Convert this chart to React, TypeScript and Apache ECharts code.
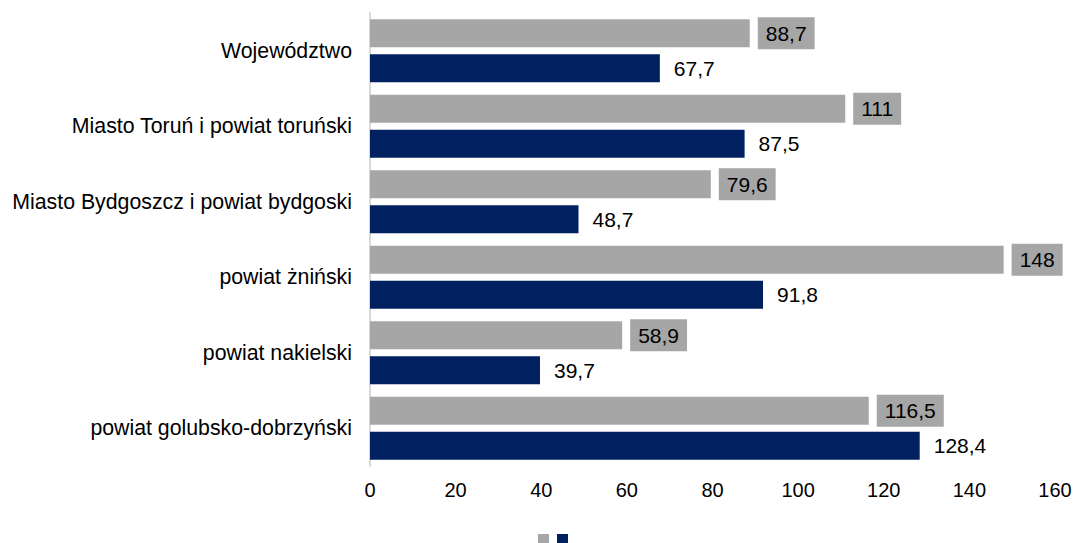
import React, { useEffect, useRef } from "react";
import * as echarts from "echarts";

const categories = [
  "Województwo",
  "Miasto Toruń i powiat toruński",
  "Miasto Bydgoszcz i powiat bydgoski",
  "powiat żniński",
  "powiat nakielski",
  "powiat golubsko-dobrzyński",
];
const grayValues = [88.7, 111, 79.6, 148, 58.9, 116.5];
const navyValues = [67.7, 87.5, 48.7, 91.8, 39.7, 128.4];

const FONT = "Liberation Sans, Arial, sans-serif";
const fmt = (p: any) => String(p.value).replace(".", ",");

export default function App() {
  const ref = useRef<HTMLDivElement>(null);
  useEffect(() => {
    document.body.style.margin = "0";
    const chart = echarts.init(ref.current!, null, { renderer: "svg" });
    chart.setOption({
      animation: false,
      textStyle: { fontFamily: FONT },
      grid: { left: 370, right: 22, top: 13, bottom: 77 },
      legend: {
        left: 533,
        top: 529,
        itemWidth: 11,
        itemHeight: 11,
        itemGap: 8,
        icon: "rect",
        formatter: () => "",
        data: ["A", "B"],
        selectedMode: false,
      },
      xAxis: {
        type: "value",
        min: 0,
        max: 160,
        interval: 20,
        axisLine: { show: false },
        axisTick: { show: false },
        splitLine: { show: false },
        axisLabel: { color: "#000", fontSize: 20, margin: 14, fontFamily: FONT },
      },
      yAxis: {
        type: "category",
        inverse: true,
        data: categories,
        axisLine: { show: true, lineStyle: { color: "#d9d9d9", width: 2 } },
        axisTick: { show: false },
        axisLabel: { color: "#000", fontSize: 21.3, margin: 18, fontFamily: FONT },
      },
      series: [
        {
          name: "A",
          type: "bar",
          data: grayValues,
          barWidth: 28,
          barGap: "25%",
          itemStyle: { color: "#a6a6a6" },
          label: {
            show: true,
            position: "right",
            distance: 8,
            formatter: fmt,
            color: "#000",
            fontSize: 21,
            fontFamily: FONT,
            backgroundColor: "#a6a6a6",
            padding: [6, 8, 5, 8],
          },
        },
        {
          name: "B",
          type: "bar",
          data: navyValues,
          barWidth: 28,
          barGap: "25%",
          itemStyle: { color: "#002060" },
          label: {
            show: true,
            position: "right",
            distance: 14,
            formatter: fmt,
            color: "#000",
            fontSize: 21,
            fontFamily: FONT,
          },
        },
      ],
    });
    return () => chart.dispose();
  }, []);
  return <div ref={ref} style={{ width: 1077, height: 543 }} />;
}
